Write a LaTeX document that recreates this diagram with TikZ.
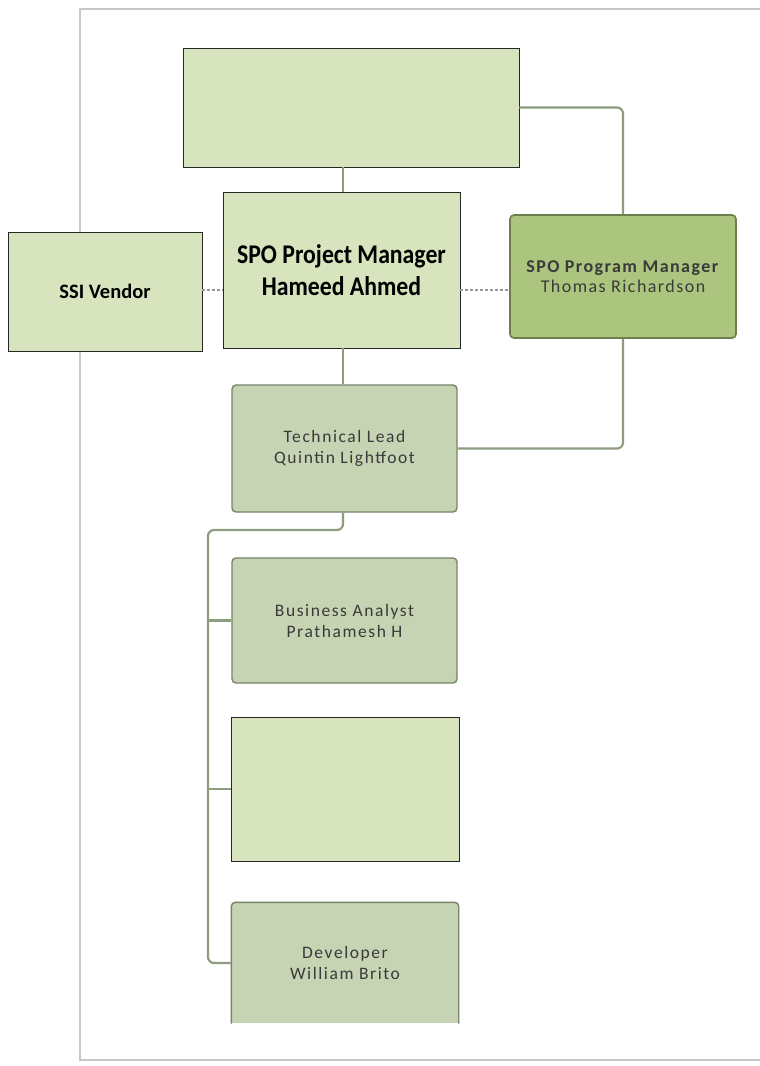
\documentclass[tikz,border=0pt]{standalone}
\usepackage{fontspec}
\setmainfont{Carlito}
\usetikzlibrary{positioning}
\definecolor{boxgreen}{HTML}{D7E4BD}
\definecolor{progfill}{HTML}{ABC47E}
\definecolor{progedge}{HTML}{6E7F4E}
\definecolor{staffill}{HTML}{C6D4B4}
\definecolor{staffedge}{HTML}{76846A}
\definecolor{linkgreen}{HTML}{8E9C80}
\definecolor{textgrey}{HTML}{3A3A3A}

\begin{document}
\begin{tikzpicture}[x=1pt,y=-1pt]
    \tikzstyle{plain}=[rectangle,draw=black!85,line width=0.8pt,fill=boxgreen,inner sep=0pt,align=center]
    \tikzstyle{prog}=[rectangle,rounded corners=4pt,draw=progedge,line width=1.6pt,fill=progfill,inner sep=0pt,align=center,text=textgrey,font=\fontsize{18}{20}\selectfont\addfontfeature{LetterSpace=8}]
    \tikzstyle{staff}=[rectangle,rounded corners=4pt,draw=staffedge,line width=1.4pt,fill=staffill,inner sep=0pt,align=center,minimum width=225pt,text=textgrey,font=\fontsize{17.5}{21}\selectfont\addfontfeature{LetterSpace=9}]
    \tikzstyle{link}=[draw=linkgreen,line width=2.2pt,rounded corners=6pt]
    \tikzstyle{dotted link}=[draw=black!40,line width=1.6pt,dash pattern=on 3pt off 2pt]

\useasboundingbox (0,0) rectangle (760,1066);
\fill[white] (0,0) rectangle (760,1066);
\draw[black!22,line width=2.5pt] (790,9) -- (80,9) -- (80,1060) -- (790,1060);

\node[plain,minimum width=336pt,minimum height=119pt] (top) at (351,107.5) {};
\node[plain,minimum width=237pt,minimum height=156pt,font=\fontsize{27}{32}\selectfont\bfseries] (pm) at (341.5,270)
    {\scalebox{0.88}[1]{SPO Project Manager}\\\scalebox{0.88}[1]{Hameed Ahmed}};
\node[plain,minimum width=194pt,minimum height=119pt,font=\fontsize{20.5}{24}\selectfont\bfseries] (ssi) at (105,291.5) {SSI Vendor};
\node[prog,minimum width=226pt,minimum height=123pt] (prg) at (623,276.5)
    {\textbf{SPO Program Manager}\\Thomas Richardson};

\node[staff,minimum height=127pt] (tech) at (344.5,448.5) {Technical Lead\\Quintin Lightfoot};
\node[staff,minimum height=125pt] (ba) at (344.5,620.5) {Business Analyst\\Prathamesh H};
\node[plain,minimum width=228pt,minimum height=144pt] (blank) at (345,789) {};
\node[staff,draw=none,rounded corners=0pt,minimum width=226pt,minimum height=120pt] (dev) at (345,963) {Developer\\William Brito};
\draw[staffedge,line width=1.4pt,rounded corners=4pt] (dev.south west) -- (dev.north west) -- (dev.north east) -- (dev.south east);

\coordinate (trunk) at (208,530);
\coordinate (dots) at (0,290);

%\draw[link] (top.south) -- (pm.north);
\draw[link] (pm.north -| 343,0) -- (top.south -| 343,0);
\draw[link] (pm.south -| 343,0) -- (tech.north -| 343,0);
\draw[link] (top.east) -| (prg.north);
\draw[link] (prg.south) |- (tech.east);
\draw[dotted link] (ssi.east |- dots) -- (pm.west |- dots);
\draw[dotted link] (pm.east |- dots) -- (prg.west |- dots);
\draw[link] (tech.south -| 343,0) |- (trunk) |- (dev.west);
\foreach \n in {ba,blank}{
\draw[link] (trunk |- \n.west) -- (\n.west);
};
\end{tikzpicture}
\end{document}
